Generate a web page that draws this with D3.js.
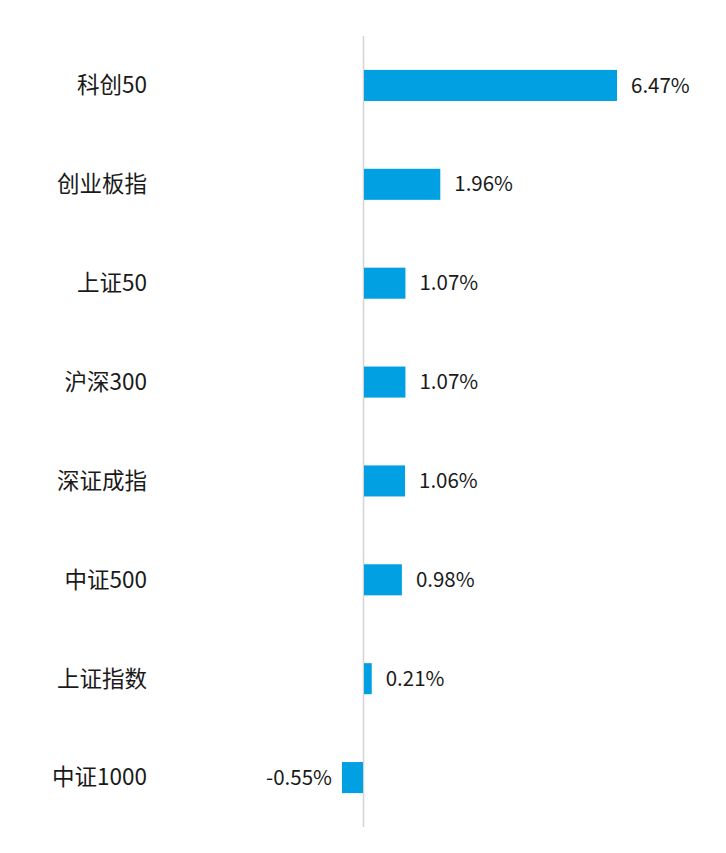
<!DOCTYPE html>
<html><head><meta charset="utf-8">
<script src="https://cdn.jsdelivr.net/npm/d3@7"></script>
<style>html,body{margin:0;padding:0;background:#fff;}</style>
</head><body>
<svg id="chart" width="726" height="853"></svg>
<script>
const categories = ["科创50","创业板指","上证50","沪深300","深证成指","中证500","上证指数","中证1000"];
const values = [6.47, 1.96, 1.07, 1.07, 1.06, 0.98, 0.21, -0.55];
const labels = ["6.47%","1.96%","1.07%","1.07%","1.06%","0.98%","0.21%","-0.55%"];

const svg = d3.select("#chart");
const x = d3.scaleLinear().domain([0, 6.47]).range([363.5, 617]);
const y = d3.scaleBand().domain(categories).range([36, 827]).paddingInner(0.686).paddingOuter(0.343);

const font = "'Noto Sans CJK SC','Noto Sans',sans-serif";

svg.append("line").attr("x1", x(0)).attr("x2", x(0)).attr("y1", 36).attr("y2", 827)
  .attr("stroke", "#d4d4d4").attr("stroke-width", 1.5);

svg.selectAll("rect.bar").data(values).enter().append("rect")
  .attr("class","bar")
  .attr("x", d => Math.min(x(0), x(d)) + (d >= 0 ? 0.5 : 0))
  .attr("width", d => Math.abs(x(d) - x(0)) - 0.5)
  .attr("y", (d,i) => y(categories[i]))
  .attr("height", y.bandwidth())
  .attr("fill", "#00a0e3");

svg.selectAll("text.val").data(values).enter().append("text")
  .attr("class","val")
  .attr("x", d => d >= 0 ? x(d) + 14 : x(d) - 10)
  .attr("y", (d,i) => y(categories[i]) + y.bandwidth()/2)
  .attr("dy", "0.35em")
  .attr("text-anchor", d => d >= 0 ? "start" : "end")
  .attr("font-family", font).attr("font-size", 20.5).attr("fill", "#1a1a1a")
  .text((d,i) => labels[i]);

svg.selectAll("text.cat").data(categories).enter().append("text")
  .attr("class","cat")
  .attr("x", 147)
  .attr("y", d => y(d) + y.bandwidth()/2)
  .attr("dy", "0.35em")
  .attr("text-anchor", "end")
  .attr("font-family", font).attr("font-size", 22.5).attr("fill", "#1a1a1a")
  .text(d => d);
</script>
</body></html>
